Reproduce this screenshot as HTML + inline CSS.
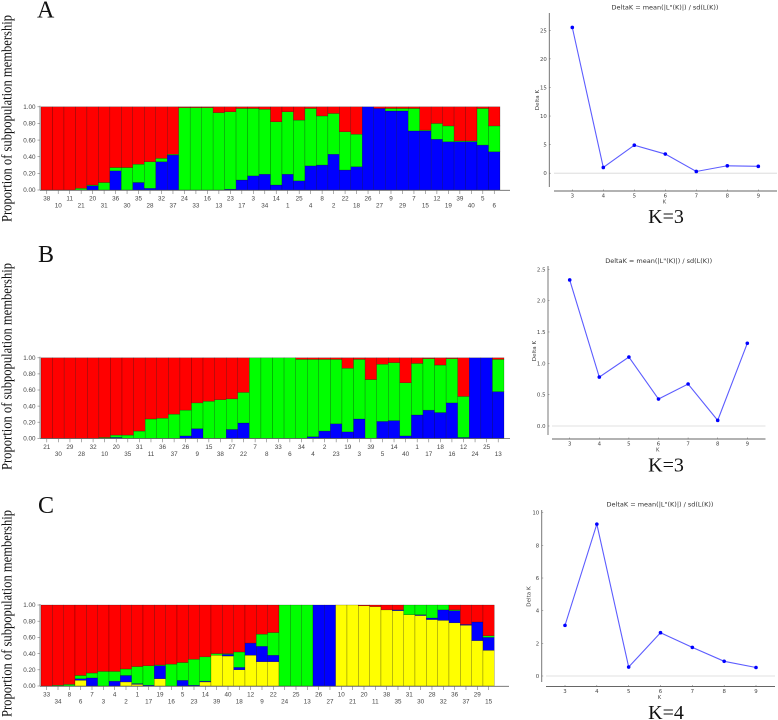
<!DOCTYPE html>
<html lang="en">
<head>
<meta charset="utf-8">
<title>Population structure bar plots and Delta K charts</title>
<style>
html,body{margin:0;padding:0;background:#fff;width:778px;height:720px;overflow:hidden}
svg{display:block}
.soft{filter:blur(.25px)}
</style>
</head>
<body>
<svg id="figure" width="778" height="720" viewBox="0 0 778 720" xmlns="http://www.w3.org/2000/svg"></svg>
<script>
// ---- Panel A (K=3) ----
const labelsA = [38,10,11,21,20,31,36,30,35,28,32,37,24,33,16,13,23,17,3,34,14,1,25,4,8,2,22,18,26,27,9,29,7,15,12,19,39,40,5,6];
const blueA = [0,0,0,0,.05,0,.23,0,.09,.02,.34,.42,0,0,0,0,.01,.12,.17,.19,.06,.19,.11,.29,.30,.43,.24,.28,1,.98,.95,.95,.71,.71,.61,.58,.58,.58,.54,.46];
const greenA = [0,0,0,.02,.01,.09,.04,.27,.22,.32,.04,.01,.99,.99,.99,.93,.93,.86,.81,.78,.76,.75,.73,.69,.59,.49,.46,.39,0,0,.03,.03,.27,.01,.19,.19,.01,.01,.44,.31];
const redA = [1,1,1,.98,.94,.91,.73,.73,.69,.66,.62,.57,.01,.01,.01,.07,.06,.02,.02,.03,.18,.06,.16,.02,.11,.08,.30,.33,0,.02,.02,.02,.02,.28,.20,.23,.41,.41,.02,.23];
// ---- Panel B (K=3) ----
const labelsB = [21,30,29,28,32,10,20,35,31,11,36,37,26,9,15,38,27,22,7,8,33,6,34,4,2,23,19,3,39,5,14,40,1,17,18,16,12,24,25,13];
const blueB = [0,0,0,0,0,0,.01,0,0,0,0,0,.03,.12,0,0,.11,.19,0,0,0,0,0,.02,.09,.18,.08,.24,0,.21,.22,.03,.29,.35,.32,.44,.01,1,1,.58];
const greenB = [0,0,0,0,0,.01,.03,.04,.09,.24,.25,.30,.32,.32,.46,.48,.38,.38,1,1,1,1,.98,.96,.89,.80,.79,.74,.73,.71,.72,.66,.64,.64,.59,.55,.51,0,0,.40];
const redB = [1,1,1,1,1,.99,.96,.96,.91,.76,.75,.70,.65,.56,.54,.52,.51,.43,0,0,0,0,.02,.02,.02,.02,.13,.02,.27,.08,.06,.31,.07,.01,.09,.01,.48,0,0,.02];
// ---- Panel C (K=4) ----
const labelsC = [33,34,8,6,7,3,4,2,1,17,19,16,5,23,14,39,40,18,12,9,22,24,25,13,26,27,10,21,20,11,38,35,31,30,28,32,36,37,29,15];
const yellowC = [0,0,0,.07,0,0,0,.05,.02,0,.09,0,0,0,.05,.38,.37,.20,.38,.30,.30,0,0,0,0,0,1,1,.99,.98,.94,.93,.88,.87,.82,.81,.78,.75,.56,.44];
const blueC = [0,0,0,.02,.10,0,.06,.08,.01,.01,.16,0,.07,.01,.01,0,.02,.03,.15,.19,.08,0,0,0,1,1,0,0,0,0,0,.01,0,.01,.02,.13,.15,.01,.23,.16];
const greenC = [0,.01,.02,.04,.06,.18,.12,.08,.21,.24,.01,.27,.22,.32,.30,.02,.01,.19,0,.15,.28,1,1,1,0,0,0,0,0,0,0,0,.12,.12,.16,.06,.01,0,0,.02];
const redC = [1,.99,.98,.87,.84,.82,.82,.79,.76,.75,.74,.73,.71,.67,.64,.60,.60,.58,.47,.36,.34,0,0,0,0,0,0,0,.01,.02,.06,.06,0,0,0,0,.06,.24,.21,.38];
const proportionTicks = [0,0.2,0.4,0.6,0.8,1];
// ---- Delta K line charts ----
const kValues = [3,4,5,6,7,8,9];
const deltaA = [25.5,1.0,4.9,3.35,0.3,1.3,1.2];
const deltaB = [2.33,0.78,1.10,0.43,0.67,0.09,1.32];
const deltaC = [3.1,9.3,0.55,2.65,1.75,0.9,0.52];
const deltaTicksA = [0,5,10,15,20,25];
const deltaTicksB = [0,0.5,1,1.5,2,2.5];
const deltaTicksC = [0,2,4,6,8,10];

const NS = 'http://www.w3.org/2000/svg';
const fig = document.getElementById('figure');
function mk(parent, tag, attrs, txt){
  const e = document.createElementNS(NS, tag);
  for (const k in attrs) e.setAttribute(k, attrs[k]);
  if (txt !== undefined) e.textContent = txt;
  parent.appendChild(e);
  return e;
}
const SANS = '"Liberation Sans", sans-serif';
const DEJA = '"DejaVu Sans", sans-serif';
const SERIF = '"Liberation Serif", serif';

function barPanel(id, frame, labels, series){
  const g = mk(fig, 'g', {class:'soft'});
  
  
  const step = (frame.x1 - frame.x0) / labels.length;
  const xPos = i => frame.x0 + i * step;
  const yPos = v => frame.y0 + (frame.y1 - frame.y0) * v;
  labels.forEach((lab, i) => {
    let cum = 0;
    series.forEach(s => {
      const v = s.values[i];
      if (v <= 0) return;
      const r = mk(g, 'rect', {x:xPos(i), y:yPos(cum + v), width:step, height:Math.abs(yPos(cum) - yPos(cum + v)), fill:s.color, stroke:'#000', 'stroke-opacity':0.5, 'stroke-width':0.4});
      
      
      cum += v;
    });
    const cx = xPos(i) + step / 2;
    const tick = mk(g, 'line', {x1:cx, x2:cx, y1:frame.y0 + 0.5, y2:frame.y0 + 4, stroke:'#777', 'stroke-width':0.6});
    
    
    const t = mk(g, 'text', {x:cx, y:frame.y0 + (i % 2 ? 17.5 : 10.5), 'text-anchor':'middle', 'font-family':SANS, 'font-size':6.3, fill:'#444'}, String(lab));
    
    
  });
  const yAxis = mk(g, 'line', {x1:frame.x0 - 1, x2:frame.x0 - 1, y1:frame.y1 - 1, y2:frame.y0, stroke:'#666', 'stroke-width':0.8});
  
  
  const xAxis = mk(g, 'line', {x1:frame.x0 - 1, x2:frame.xEnd, y1:frame.y0 + 0.3, y2:frame.y0 + 0.3, stroke:'#666', 'stroke-width':0.8});
  
  
  proportionTicks.forEach(v => {
    const y = yPos(v);
    const tk = mk(g, 'line', {x1:frame.x0 - 3.5, x2:frame.x0 - 1, y1:y, y2:y, stroke:'#777', 'stroke-width':0.6});
    
    
    const lb = mk(g, 'text', {x:frame.x0 - 5.5, y:y + 2.2, 'text-anchor':'end', 'font-family':SANS, 'font-size':6.3, fill:'#444'}, v.toFixed(2));
    
    
  });
}

function deltaPanel(id, f, ks, vals, ticks, tickFmt){
  const g = mk(fig, 'g', {class:'soft'});
  
  
  const xPos = k => f.x3 + (k - ks[0]) * (f.x9 - f.x3) / (ks[ks.length - 1] - ks[0]);
  const yPos = v => f.yZero + (f.yTop - f.yZero) * (v - ticks[0]) / (ticks[ticks.length - 1] - ticks[0]);
  const zero = mk(g, 'line', {x1:f.axL, x2:f.axR, y1:yPos(0), y2:yPos(0), stroke:'#d8d8d8', 'stroke-width':0.8});
  
  
  const ya = mk(g, 'line', {x1:f.yAxisX, x2:f.yAxisX, y1:f.yAxTop, y2:f.yAxBot, stroke:f.yColor, 'stroke-width':f.yW});
  
  
  const xa = mk(g, 'line', {x1:f.axL, x2:f.axR, y1:f.axY, y2:f.axY, stroke:'#666', 'stroke-width':0.9});
  
  
  ks.forEach(k => {
    const tk = mk(g, 'line', {x1:xPos(k), x2:xPos(k), y1:f.axY - 1.5, y2:f.axY, stroke:'#666', 'stroke-width':0.5});
    
    
    const t = mk(g, 'text', {x:xPos(k), y:f.axY + 6.5, 'text-anchor':'middle', 'font-family':DEJA, 'font-size':5.4, fill:'#444'}, String(k));
    
    
  });
  ticks.forEach(v => {
    const tk = mk(g, 'line', {x1:f.yAxisX, x2:f.yAxisX + 1.5, y1:yPos(v), y2:yPos(v), stroke:'#666', 'stroke-width':0.5});
    
    
    const t = mk(g, 'text', {x:f.yAxisX - 2.5, y:yPos(v) + 2, 'text-anchor':'end', 'font-family':DEJA, 'font-size':5.4, fill:'#444'}, tickFmt(v));
    
    
  });
  const title = mk(g, 'text', {x:f.titleX, y:f.titleY, 'text-anchor':'middle', 'font-family':DEJA, 'font-size':6.5, fill:'#333'}, f.title);
  
  
  const xl = mk(g, 'text', {x:(f.axL + f.axR) / 2 - 1, y:f.axY + 12.5, 'text-anchor':'middle', 'font-family':DEJA, 'font-size':5.2, fill:'#444'}, 'K');
  
  
  const yl = mk(g, 'text', {x:0, y:0, transform:'translate(' + f.yLabX + ' ' + f.yLabY + ') rotate(-90)', 'text-anchor':'middle', 'font-family':DEJA, 'font-size':5.6, fill:'#444'}, 'Delta K');
  
  
  const pts = ks.map((k, i) => xPos(k) + ',' + yPos(vals[i])).join(' ');
  const line = mk(g, 'polyline', {points:pts, fill:'none', stroke:'#5c5cff', 'stroke-width':1.1});
  
  
  ks.forEach((k, i) => {
    const c = mk(g, 'circle', {cx:xPos(k), cy:yPos(vals[i]), r:1.8, fill:'#0000ff'});
    
    
  });
  const cap = mk(fig, 'text', {x:f.capX, y:f.capY, 'text-anchor':'middle', 'font-family':SERIF, 'font-size':20, fill:'#111'}, f.cap);
  
  
}

barPanel('a', {x0:41, x1:500, xEnd:510, y0:190, y1:106.8}, labelsA, [
  {name:'blue', color:'#0000ff', values:blueA},
  {name:'green', color:'#00ff00', values:greenA},
  {name:'red', color:'#ff0000', values:redA}
]);
barPanel('b', {x0:41, x1:504, xEnd:510, y0:438.3, y1:357.8}, labelsB, [
  {name:'blue', color:'#0000ff', values:blueB},
  {name:'green', color:'#00ff00', values:greenB},
  {name:'red', color:'#ff0000', values:redB}
]);
barPanel('c', {x0:41, x1:494.3, xEnd:509, y0:686, y1:605}, labelsC, [
  {name:'yellow', color:'#ffff00', values:yellowC},
  {name:'blue', color:'#0000ff', values:blueC},
  {name:'green', color:'#00ff00', values:greenC},
  {name:'red', color:'#ff0000', values:redC}
]);

deltaPanel('a', {x3:572.3, x9:758.3, yZero:173.2, yTop:30.3, axL:554, axR:777, axY:191, yAxisX:549.3, yAxTop:13, yAxBot:187, yColor:'#666', yW:0.9,
  title:'DeltaK = mean(|L"(K)|) / sd(L(K))', titleX:665, titleY:9.5, yLabX:539, yLabY:100, cap:'K=3', capX:666, capY:223}, kValues, deltaA, deltaTicksA, v => String(v));
deltaPanel('b', {x3:569.7, x9:747.3, yZero:426, yTop:269.3, axL:552, axR:765.5, axY:439, yAxisX:548, yAxTop:266, yAxBot:435, yColor:'#b5b5b5', yW:1.8,
  title:'DeltaK = mean(|L"(K)|) / sd(L(K))', titleX:658.7, titleY:263, yLabX:536, yLabY:351, cap:'K=3', capX:666, capY:471.5}, kValues, deltaB, deltaTicksB, v => v.toFixed(1));
deltaPanel('c', {x3:565, x9:756, yZero:676, yTop:512.7, axL:546, axR:775, axY:686.5, yAxisX:541.7, yAxTop:510, yAxBot:682, yColor:'#777', yW:1,
  title:'DeltaK = mean(|L"(K)|) / sd(L(K))', titleX:660, titleY:506.5, yLabX:530.5, yLabY:596.5, cap:'K=4', capX:666, capY:719}, kValues, deltaC, deltaTicksC, v => String(v));

[['A', 37, 17.5], ['B', 38, 262], ['C', 38, 513]].forEach(p => {
  const t = mk(fig, 'text', {x:p[1], y:p[2], 'font-family':SERIF, 'font-size':24, fill:'#111'}, p[0]);
  
  
});
[[222, 'a'], [470, 'b'], [717, 'c']].forEach(p => {
  const t = mk(fig, 'text', {x:0, y:0, transform:'translate(11.5 ' + p[0] + ') rotate(-90)', 'font-family':SERIF, 'font-size':14.5, fill:'#111', textLength:207, lengthAdjust:'spacingAndGlyphs'}, 'Proportion of subpopulation membership');
  
  
});
</script>
</body>
</html>
